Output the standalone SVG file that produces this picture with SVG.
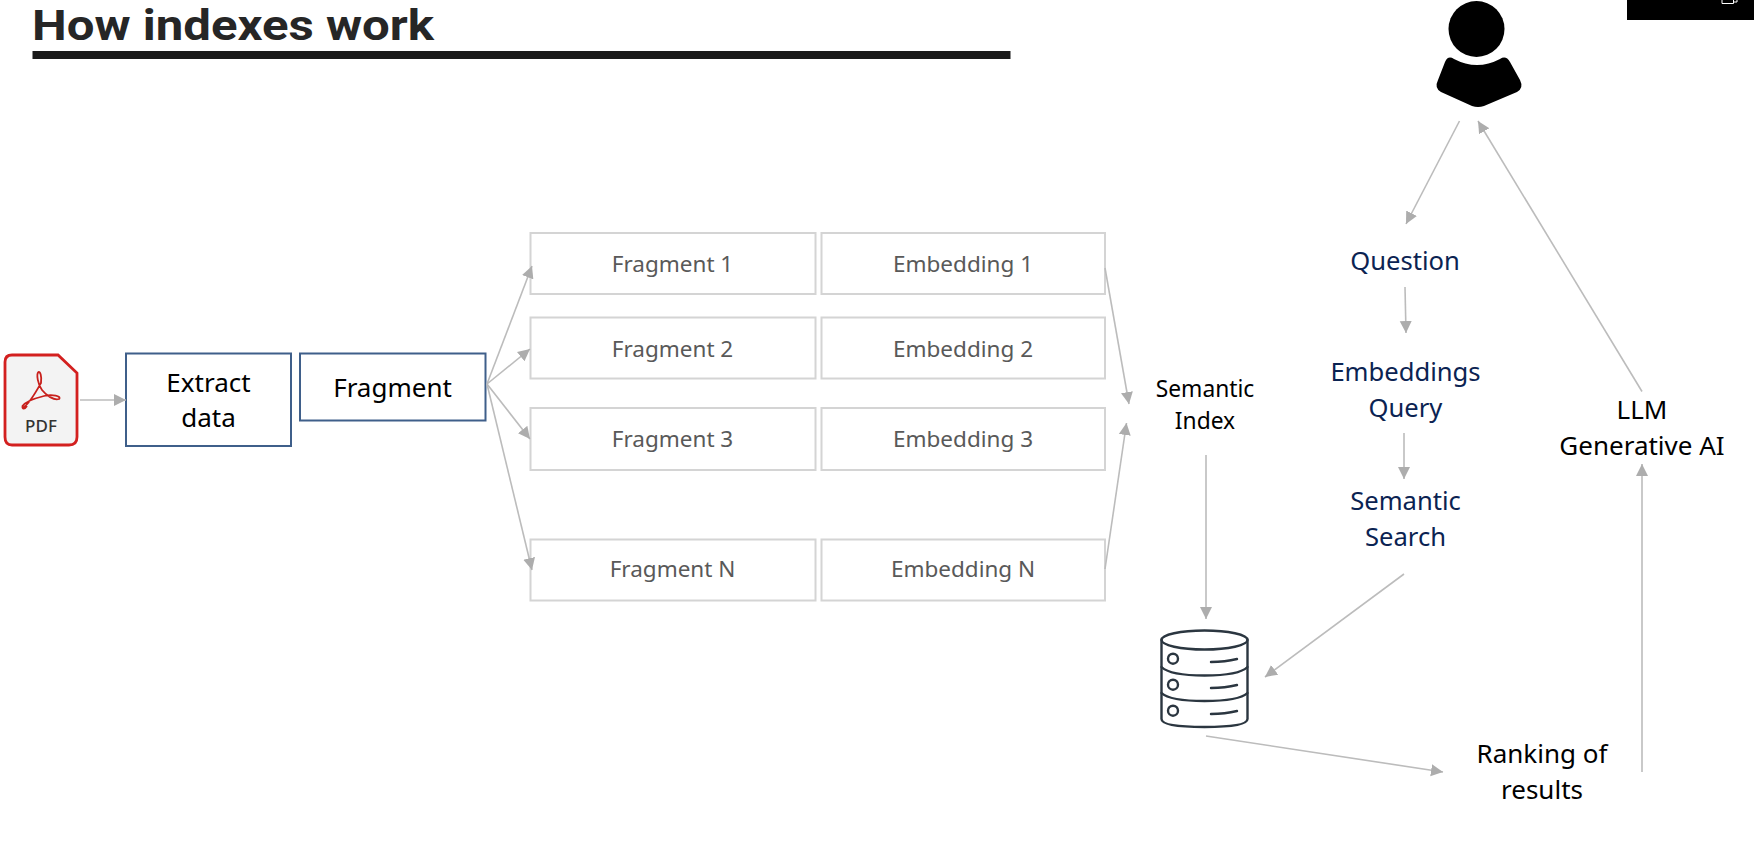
<svg xmlns="http://www.w3.org/2000/svg" width="1754" height="848" viewBox="0 0 1754 848">
<style>
text{font-family:"Noto Sans","Open Sans","Liberation Sans",sans-serif;text-anchor:middle}
.b{fill:#fff;stroke:#3f5f8a;stroke-width:2}
.g{fill:#fff;stroke:#d4d4d4;stroke-width:2}
.bl{font-size:26px;fill:#000}
.gt{font-size:22.5px;fill:#595959}
.nv{font-size:25.6px;fill:#0b2352}
.c line{stroke:#bcbcbc;stroke-width:1.6;marker-end:url(#a)}
.db{fill:none;stroke:#2b3640;stroke-width:2.4;stroke-linecap:round}
</style>
<defs><marker id="a" markerUnits="userSpaceOnUse" markerWidth="13" markerHeight="14" refX="12" refY="7" orient="auto"><path d="M0,1L12,7L0,13Z" fill="#adadad"/></marker></defs>
<rect width="1754" height="848" fill="#fff"/>
<g id="title">
<text x="32" y="40" style="text-anchor:start;font-family:'Roboto',sans-serif;font-weight:700;font-size:43px" fill="#262626" textLength="402" lengthAdjust="spacingAndGlyphs">How indexes work</text>
<rect x="32.5" y="51" width="978" height="8" fill="#1a1a1a"/>
</g>
<g id="overlay"><rect x="1627" y="0" width="127" height="20" fill="#000"/><path d="M1722,0V3.5H1733.5V0M1733.5,2H1737V0" fill="none" stroke="#fff" stroke-width="1"/></g>
<g id="pdf">
<path d="M12,355H58L77,373V437Q77,445 69,445H12Q5,445 5,437V362Q5,355 12,355Z" fill="#f3f3f3" stroke="#d3201f" stroke-width="2.800"/>
<path d="M23,408C30,403 36,392 41,383C42,376 40,371 38.500,372C36,374 38,385 42,390C46,395 54,401 59,399C62,396 52,394 44,396C36,398 25,402 22.500,406C22,410 25,409 27,406" fill="none" stroke="#c8201c" stroke-width="1.800"/>
<text x="41" y="432" font-size="17" font-weight="500" fill="#333">PDF</text>
</g>
<g id="extract"><rect class="b" x="126" y="353.500" width="165" height="92.500"/><text class="bl" x="208.500" y="392">Extract</text><text class="bl" x="208.500" y="427">data</text></g>
<g id="fragment"><rect class="b" x="300" y="353.500" width="185.500" height="67"/><text class="bl" x="392.500" y="397">Fragment</text></g>
<g id="fragment1"><rect class="g" x="530.500" y="233" width="285" height="61"/><text class="gt" x="672.500" y="271.500">Fragment 1</text></g>
<g id="embedding1"><rect class="g" x="821.500" y="233" width="283.500" height="61"/><text class="gt" x="963" y="271.500">Embedding 1</text></g>
<g id="fragment2"><rect class="g" x="530.500" y="317.500" width="285" height="61"/><text class="gt" x="672.500" y="356.500">Fragment 2</text></g>
<g id="embedding2"><rect class="g" x="821.500" y="317.500" width="283.500" height="61"/><text class="gt" x="963" y="356.500">Embedding 2</text></g>
<g id="fragment3"><rect class="g" x="530.500" y="408" width="285" height="62"/><text class="gt" x="672.500" y="447">Fragment 3</text></g>
<g id="embedding3"><rect class="g" x="821.500" y="408" width="283.500" height="62"/><text class="gt" x="963" y="447">Embedding 3</text></g>
<g id="fragmentN"><rect class="g" x="530.500" y="539.500" width="285" height="61"/><text class="gt" x="672.500" y="577">Fragment N</text></g>
<g id="embeddingN"><rect class="g" x="821.500" y="539.500" width="283.500" height="61"/><text class="gt" x="963" y="577">Embedding N</text></g>
<g id="semantic-index"><text x="1205" y="397" font-size="22.800" fill="#000">Semantic</text><text x="1205" y="429" font-size="22.800" fill="#000">Index</text></g>
<g id="database" class="db">
<ellipse cx="1204.500" cy="640" rx="43" ry="9.500"/>
<path d="M1161.500,640V719Q1161.500,727 1204.500,727Q1247.500,727 1247.500,719V640"/>
<path d="M1161.500,667Q1170,675.500 1204.500,675.500Q1239,675.500 1247.500,667"/>
<path d="M1161.500,693Q1170,701 1204.500,701Q1239,701 1247.500,693"/>
<circle cx="1173" cy="658.700" r="5"/><circle cx="1173" cy="684.700" r="5"/><circle cx="1173" cy="710.700" r="5"/>
<path d="M1211,662Q1225,662 1237,659M1211,688Q1225,688 1237,685M1211,714Q1225,714 1237,711"/>
</g>
<g id="user"><circle cx="1476.500" cy="29" r="28" fill="#000"/><path d="M1445,62Q1448,55 1454,59Q1477,71 1500,59Q1506,55 1510,62L1520,80Q1524,88 1517,92L1484,106Q1478,108 1472,106L1441,92Q1434,88 1438,80Z" fill="#000"/></g>
<g id="question"><text class="nv" x="1405" y="269.500">Question</text></g>
<g id="embeddings-query"><text class="nv" x="1405.500" y="381">Embeddings</text><text class="nv" x="1405.500" y="417">Query</text></g>
<g id="semantic-search"><text class="nv" x="1405.500" y="510">Semantic</text><text class="nv" x="1405.500" y="546">Search</text></g>
<g id="llm"><text class="bl" x="1642" y="419">LLM</text><text class="bl" x="1642" y="455">Generative AI</text></g>
<g id="ranking"><text class="bl" x="1542" y="763">Ranking of</text><text class="bl" x="1542" y="799">results</text></g>
<g class="c" id="connectors">
<line x1="80" y1="400" x2="126" y2="400"/>
<line x1="487" y1="384" x2="532" y2="266"/>
<line x1="487" y1="384" x2="530" y2="349"/>
<line x1="487" y1="384" x2="530" y2="439"/>
<line x1="487" y1="384" x2="532" y2="570"/>
<line x1="1105" y1="268" x2="1129" y2="404"/>
<line x1="1105" y1="569" x2="1126.5" y2="423"/>
<line x1="1206" y1="455" x2="1206" y2="619"/>
<line x1="1459.500" y1="121" x2="1406" y2="224"/>
<line x1="1642" y1="391.500" x2="1478" y2="121"/>
<line x1="1405" y1="287" x2="1406" y2="333"/>
<line x1="1404" y1="433" x2="1404" y2="479"/>
<line x1="1404" y1="574" x2="1265" y2="677"/>
<line x1="1206" y1="736" x2="1443" y2="772"/>
<line x1="1642" y1="772" x2="1642" y2="464"/>
</g>
</svg>
